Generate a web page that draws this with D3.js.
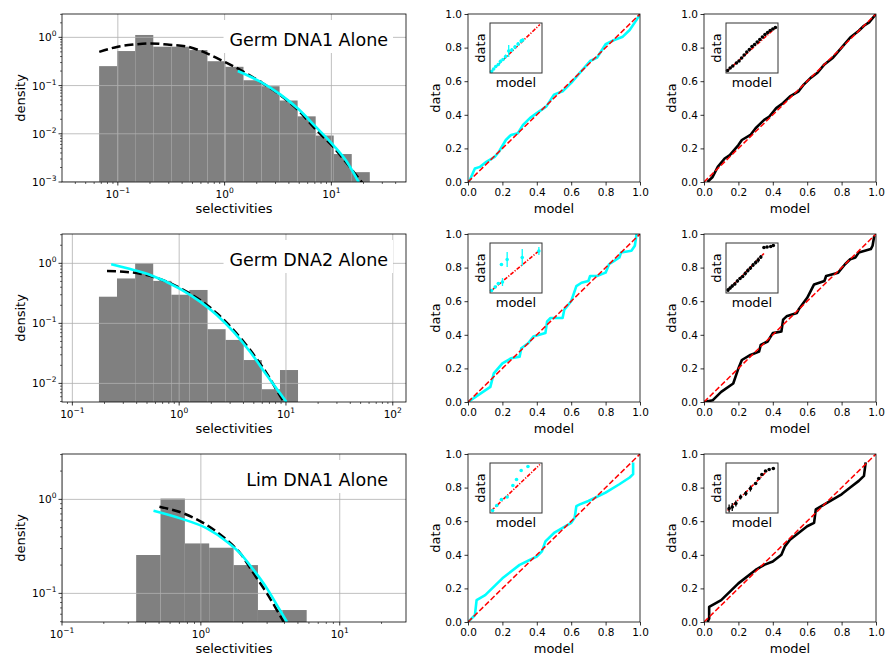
<!DOCTYPE html>
<html>
<head>
<meta charset="utf-8">
<script src="https://cdn.jsdelivr.net/npm/d3@7"></script>
<style>
  body { margin: 0; background: #fff; }
  svg { font-family: "DejaVu Sans", sans-serif; }
</style>
</head>
<body>
<div id="chart"></div>
<script>
// ---- data ----
const titles = ["Germ DNA1 Alone", "Germ DNA2 Alone", "Lim DNA1 Alone"];

// histogram bin edges and heights (density)
const edges1 = [0.0668, 0.0986, 0.1455, 0.2148, 0.317, 0.4677, 0.690, 1.019, 1.503, 2.218, 3.273, 4.831, 7.129, 10.52, 15.52, 22.9];
const dens1  = [0.253, 0.52, 1.12, 0.64, 0.64, 0.545, 0.32, 0.245, 0.129, 0.097, 0.049, 0.023, 0.0092, 0.0038, 0.0016];
const edges2 = [0.1774, 0.2618, 0.3873, 0.5715, 0.8453, 1.247, 1.845, 2.723, 4.027, 5.943, 8.79, 12.97];
const dens2  = [0.278, 0.56, 1.0, 0.51, 0.30, 0.36, 0.080, 0.053, 0.0245, 0.0080, 0.0167];
const edges3 = [0.342, 0.512, 0.767, 1.148, 1.722, 2.576, 3.864, 5.78];
const dens3  = [0.256, 1.02, 0.34, 0.306, 0.20, 0.0665, 0.0665];

// fitted curves: black dashed and cyan
const dash1 = [[0.067,0.50],[0.1,0.64],[0.142,0.71],[0.20,0.75],[0.29,0.71],[0.45,0.64],[0.69,0.46],[1.0,0.31],[1.41,0.21],[2.17,0.119],[3.34,0.063],[4.88,0.031],[7.08,0.0126],[10.5,0.0052],[15,0.002],[19.4,0.00097]];
const cyan1 = [[1.33,0.2],[2.17,0.119],[3.34,0.065],[4.88,0.033],[7.08,0.0142],[10.5,0.0057],[14,0.0026],[18,0.001]];
const dash2 = [[0.211,0.745],[0.302,0.726],[0.432,0.672],[0.618,0.57],[1.0,0.395],[1.57,0.245],[2.25,0.148],[3.22,0.078],[4.61,0.0362],[6.59,0.0148],[9.44,0.0051],[9.9,0.0045]];
const cyan2 = [[0.231,0.962],[0.374,0.774],[0.536,0.64],[1.0,0.383],[1.57,0.23],[2.25,0.138],[3.22,0.0726],[4.61,0.0337],[6.59,0.0138],[10.1,0.00489]];
const dash3 = [[0.503,0.836],[0.75,0.71],[1.105,0.533],[1.54,0.369],[1.92,0.267],[2.4,0.163],[2.99,0.1],[3.53,0.0665],[3.95,0.0496]];
const cyan3 = [[0.456,0.757],[0.71,0.628],[1.105,0.491],[1.54,0.355],[1.92,0.267],[2.4,0.177],[2.99,0.113],[3.53,0.075],[4.17,0.0496]];

// axis limits and decade ticks
const xLims = [[0.03, 50], [0.08, 133], [0.1, 30]];
const yLims = [[0.001, 3.05], [0.0049, 3.08], [0.0496, 3.04]];
const xDecades = [[-1, 0, 1], [-1, 0, 1, 2], [-1, 0, 1]];
const yDecades = [[0, -1, -2, -3], [0, -1, -2], [0, -1]];

// Q-Q curves (model, data)
const qqMid1 = [[0,0],[0.01,0.01],[0.04,0.08],[0.07,0.09],[0.107,0.12],[0.155,0.15],[0.18,0.18],[0.22,0.25],[0.25,0.28],[0.29,0.29],[0.32,0.34],[0.36,0.38],[0.4,0.41],[0.456,0.45],[0.5,0.52],[0.55,0.54],[0.6,0.59],[0.65,0.65],[0.71,0.72],[0.75,0.74],[0.8,0.82],[0.85,0.845],[0.9,0.865],[0.94,0.905],[0.98,0.965],[1,1]];
const qqRight1 = [[0.02,0],[0.05,0.03],[0.08,0.09],[0.12,0.14],[0.15,0.16],[0.2,0.22],[0.22,0.25],[0.27,0.28],[0.3,0.32],[0.35,0.37],[0.38,0.39],[0.42,0.44],[0.46,0.47],[0.5,0.51],[0.55,0.54],[0.58,0.58],[0.62,0.62],[0.66,0.65],[0.7,0.7],[0.75,0.74],[0.8,0.8],[0.85,0.86],[0.9,0.9],[0.93,0.93],[0.96,0.95],[1,1]];
const qqMid2 = [[0,0],[0.13,0.09],[0.15,0.17],[0.2,0.23],[0.25,0.26],[0.3,0.27],[0.31,0.32],[0.35,0.35],[0.38,0.39],[0.45,0.41],[0.46,0.48],[0.48,0.5],[0.55,0.5],[0.56,0.55],[0.6,0.6],[0.63,0.69],[0.66,0.71],[0.7,0.72],[0.71,0.75],[0.75,0.75],[0.8,0.77],[0.82,0.82],[0.85,0.84],[0.88,0.86],[0.89,0.89],[0.95,0.9],[0.97,0.93],[0.98,1.0]];
const qqRight2 = [[0,0],[0.05,0.01],[0.1,0.06],[0.17,0.11],[0.2,0.2],[0.22,0.25],[0.27,0.28],[0.32,0.3],[0.33,0.34],[0.37,0.36],[0.4,0.41],[0.45,0.42],[0.46,0.49],[0.48,0.51],[0.54,0.53],[0.55,0.55],[0.6,0.62],[0.64,0.7],[0.7,0.72],[0.71,0.75],[0.78,0.77],[0.82,0.82],[0.85,0.85],[0.88,0.86],[0.9,0.89],[0.97,0.91],[0.98,0.93],[0.99,0.99]];
const qqMid3 = [[0,0],[0.04,0.04],[0.05,0.13],[0.1,0.16],[0.2,0.26],[0.3,0.34],[0.4,0.39],[0.43,0.42],[0.45,0.48],[0.5,0.53],[0.6,0.59],[0.62,0.62],[0.63,0.69],[0.65,0.7],[0.7,0.72],[0.8,0.77],[0.88,0.82],[0.94,0.86],[0.96,0.88],[0.96,0.95]];
const qqRight3 = [[0.02,0],[0.03,0.02],[0.03,0.09],[0.1,0.13],[0.2,0.23],[0.3,0.31],[0.35,0.34],[0.4,0.36],[0.45,0.4],[0.47,0.45],[0.5,0.49],[0.55,0.53],[0.6,0.57],[0.64,0.59],[0.65,0.67],[0.7,0.7],[0.8,0.76],[0.85,0.8],[0.9,0.84],[0.93,0.87],[0.94,0.95]];

// inset points [model, data, error]
const inMid1 = [[0.03,0.03,0.02],[0.07,0.08,0.02],[0.11,0.13,0.03],[0.16,0.17,0.02],[0.2,0.23,0.04],[0.25,0.27,0.03],[0.3,0.33,0.04],[0.36,0.44,0.12],[0.42,0.46,0.04],[0.48,0.52,0.04],[0.54,0.58,0.04],[0.6,0.64,0.04],[0.63,0.66,0.03]];
const inRight1 = [[0.03,0.05,0.03],[0.08,0.1,0.02],[0.13,0.14,0.02],[0.2,0.2,0.02],[0.25,0.24,0.02],[0.3,0.3,0.02],[0.35,0.36,0.02],[0.4,0.42,0.02],[0.45,0.47,0.02],[0.5,0.53,0.02],[0.55,0.57,0.02],[0.6,0.62,0.02],[0.65,0.67,0.02],[0.7,0.72,0.02],[0.75,0.77,0.02],[0.8,0.81,0.02],[0.85,0.85,0.02],[0.9,0.88,0.02],[0.95,0.91,0.02]];
const inMid2 = [[0.03,0.05,0.02],[0.1,0.12,0.03],[0.16,0.19,0.03],[0.24,0.22,0.08],[0.22,0.57,0],[0.33,0.67,0.15],[0.62,0.71,0.17],[0.94,0.84,0.08]];
const inRight2 = [[0.04,0.06,0.04],[0.08,0.1,0.03],[0.12,0.14,0.03],[0.17,0.18,0.03],[0.22,0.24,0.03],[0.27,0.29,0.03],[0.32,0.33,0.03],[0.37,0.39,0.04],[0.42,0.45,0.04],[0.47,0.5,0.04],[0.52,0.56,0.04],[0.57,0.61,0.04],[0.62,0.66,0.05],[0.67,0.72,0.04],[0.73,0.91,0.02],[0.79,0.92,0.02],[0.86,0.93,0.02],[0.91,0.95,0.02]];
const inMid3 = [[0.05,0.05,0.03],[0.13,0.15,0.03],[0.22,0.27,0.02],[0.33,0.32,0.02],[0.44,0.55,0],[0.51,0.67,0],[0.6,0.85,0],[0.73,0.93,0]];
const inRight3 = [[0.06,0.09,0.08],[0.12,0.12,0.08],[0.19,0.19,0.06],[0.28,0.32,0.05],[0.38,0.39,0.05],[0.47,0.49,0.06],[0.57,0.59,0],[0.63,0.69,0],[0.69,0.77,0],[0.76,0.84,0],[0.83,0.87,0],[0.91,0.89,0]];
// reference line end points in insets
const inRef = [[[0.02,0.03],[0.96,0.97]], [[0.01,0.03],[0.97,0.92]], [[0.03,0.05],[0.95,0.85]], [[0.03,0.05],[0.73,0.79]], [[0.03,0.05],[0.96,0.97]], [[0.03,0.05],[0.8,0.85]]];

// ---- layout ----
const W = 885, H = 657;
const rowTops = [14, 234, 454];
const plotH = 168;
const histLeft = 62, histW = 344;
const midLeft = 468, rightLeft = 704, qqW = 172;

const svg = d3.select("#chart").append("svg")
    .attr("width", W)
    .attr("height", H);

const edges = [edges1, edges2, edges3];
const dens = [dens1, dens2, dens3];
const dashes = [dash1, dash2, dash3];
const cyans = [cyan1, cyan2, cyan3];

function supText(sel, exp) {
  sel.append("tspan").text("10");
  sel.append("tspan")
      .attr("dy", -5)
      .attr("font-size", 7.5)
      .text(exp < 0 ? "\u2212" + (-exp) : String(exp));
}

function drawHist(i) {
  const g = svg.append("g").attr("transform", `translate(${histLeft},${rowTops[i]})`);
  const x = d3.scaleLog().domain(xLims[i]).range([0, histW]);
  const y = d3.scaleLog().domain(yLims[i]).range([plotH, 0]);

  g.append("clipPath").attr("id", "hclip" + i)
    .append("rect").attr("width", histW).attr("height", plotH);
  const body = g.append("g").attr("clip-path", `url(#hclip${i})`);

  // bars
  const bins = dens[i].map((d, k) => ({x0: edges[i][k], x1: edges[i][k + 1], v: d}));
  body.selectAll("rect.bar")
    .data(bins)
    .join("rect")
      .attr("class", "bar")
      .attr("x", d => x(d.x0))
      .attr("y", d => y(d.v))
      .attr("width", d => x(d.x1) - x(d.x0))
      .attr("height", d => plotH - y(d.v))
      .attr("fill", "#808080");

  // grid (over the bars, like matplotlib)
  body.selectAll("line.gx")
    .data(xDecades[i])
    .join("line")
      .attr("x1", d => x(Math.pow(10, d))).attr("x2", d => x(Math.pow(10, d)))
      .attr("y1", 0).attr("y2", plotH)
      .attr("stroke", "#b0b0b0").attr("stroke-width", 0.8);
  body.selectAll("line.gy")
    .data(yDecades[i])
    .join("line")
      .attr("y1", d => y(Math.pow(10, d))).attr("y2", d => y(Math.pow(10, d)))
      .attr("x1", 0).attr("x2", histW)
      .attr("stroke", "#b0b0b0").attr("stroke-width", 0.8);

  const line = d3.line().x(d => x(d[0])).y(d => y(d[1])).curve(d3.curveMonotoneX);
  body.append("path")
      .attr("d", line(dashes[i]))
      .attr("fill", "none").attr("stroke", "#000")
      .attr("stroke-width", 2.5).attr("stroke-dasharray", "9,4");
  body.append("path")
      .attr("d", line(cyans[i]))
      .attr("fill", "none").attr("stroke", "#00ffff")
      .attr("stroke-width", 2.6);

  // title box
  const tb = g.append("g");
  const box = tb.append("rect").attr("fill", "#fff");
  const t = tb.append("text")
      .attr("x", 326).attr("y", 32)
      .attr("text-anchor", "end")
      .attr("font-size", 17.5)
      .attr("fill", "#000")
      .text(titles[i]);
  const bb = t.node().getBBox();
  box.attr("x", bb.x - 6).attr("y", 6).attr("width", bb.width + 11).attr("height", 33);

  // frame
  g.append("rect").attr("width", histW).attr("height", plotH)
      .attr("fill", "none").attr("stroke", "#000").attr("stroke-width", 0.8);

  // ticks
  const [xa, xb] = xLims[i];
  const minorX = [], minorY = [];
  for (let e = Math.floor(Math.log10(xa)); e <= Math.ceil(Math.log10(xb)); e++)
    for (let m = 2; m <= 9; m++) { const v = m * Math.pow(10, e); if (v > xa && v < xb) minorX.push(v); }
  const [ya, yb] = yLims[i];
  for (let e = Math.floor(Math.log10(ya)); e <= Math.ceil(Math.log10(yb)); e++)
    for (let m = 2; m <= 9; m++) { const v = m * Math.pow(10, e); if (v > ya && v < yb) minorY.push(v); }

  g.selectAll("line.mx").data(minorX).join("line")
      .attr("x1", d => x(d)).attr("x2", d => x(d))
      .attr("y1", plotH).attr("y2", plotH + 2)
      .attr("stroke", "#000").attr("stroke-width", 0.6);
  g.selectAll("line.my").data(minorY).join("line")
      .attr("y1", d => y(d)).attr("y2", d => y(d))
      .attr("x1", 0).attr("x2", -2)
      .attr("stroke", "#000").attr("stroke-width", 0.6);

  xDecades[i].forEach(e => {
    const px = x(Math.pow(10, e));
    g.append("line").attr("x1", px).attr("x2", px).attr("y1", plotH).attr("y2", plotH + 3.5)
        .attr("stroke", "#000").attr("stroke-width", 0.8);
    const tx = g.append("text").attr("x", px).attr("y", plotH + 15.5)
        .attr("text-anchor", "middle").attr("font-size", 10.5);
    supText(tx, e);
  });
  yDecades[i].forEach(e => {
    const py = y(Math.pow(10, e));
    g.append("line").attr("y1", py).attr("y2", py).attr("x1", 0).attr("x2", -3.5)
        .attr("stroke", "#000").attr("stroke-width", 0.8);
    const ty = g.append("text").attr("x", -5.5).attr("y", py + 4)
        .attr("text-anchor", "end").attr("font-size", 10.5);
    supText(ty, e);
  });

  g.append("text")
      .attr("x", histW / 2).attr("y", plotH + 31)
      .attr("text-anchor", "middle").attr("font-size", 13)
      .text("selectivities");
  g.append("text")
      .attr("transform", `translate(-37,${plotH / 2}) rotate(-90)`)
      .attr("text-anchor", "middle").attr("font-size", 13)
      .text("density");
}

function drawQQ(left, top, curve, color, pts, ref, id) {
  const g = svg.append("g").attr("transform", `translate(${left},${top})`);
  const x = d3.scaleLinear().domain([0, 1]).range([0, qqW]);
  const y = d3.scaleLinear().domain([0, 1]).range([plotH, 0]);

  g.append("clipPath").attr("id", "qclip" + id)
    .append("rect").attr("width", qqW).attr("height", plotH);
  const body = g.append("g").attr("clip-path", `url(#qclip${id})`);

  const line = d3.line().x(d => x(d[0])).y(d => y(d[1]));
  body.append("path")
      .attr("d", line(curve))
      .attr("fill", "none").attr("stroke", color)
      .attr("stroke-width", 2.6).attr("stroke-linejoin", "round");
  body.append("path")
      .attr("d", line([[0, 0], [1, 1]]))
      .attr("fill", "none").attr("stroke", "#ff0000")
      .attr("stroke-width", 1.5).attr("stroke-dasharray", "5.5,2.4");

  g.append("rect").attr("width", qqW).attr("height", plotH)
      .attr("fill", "none").attr("stroke", "#000").attr("stroke-width", 0.8);

  const ticks = [0, 0.2, 0.4, 0.6, 0.8, 1.0];
  const xAxis = d3.axisBottom(x).tickValues(ticks).tickFormat(d3.format(".1f")).tickSizeOuter(0).tickSize(3.5).tickPadding(3);
  const yAxis = d3.axisLeft(y).tickValues(ticks).tickFormat(d3.format(".1f")).tickSizeOuter(0).tickSize(3.5).tickPadding(2.5);
  g.append("g").attr("transform", `translate(0,${plotH})`).call(xAxis)
      .call(a => a.select(".domain").remove())
      .call(a => a.selectAll("text").attr("font-size", 10.5).attr("font-family", "DejaVu Sans").attr("fill", "#000"))
      .call(a => a.selectAll("line").attr("stroke-width", 0.8));
  g.append("g").call(yAxis)
      .call(a => a.select(".domain").remove())
      .call(a => a.selectAll("text").attr("font-size", 10.5).attr("font-family", "DejaVu Sans").attr("fill", "#000"))
      .call(a => a.selectAll("line").attr("stroke-width", 0.8));

  g.append("text")
      .attr("x", qqW / 2).attr("y", plotH + 31)
      .attr("text-anchor", "middle").attr("font-size", 13)
      .text("model");
  g.append("text")
      .attr("transform", `translate(-28,${plotH / 2}) rotate(-90)`)
      .attr("text-anchor", "middle").attr("font-size", 13)
      .text("data");

  // inset
  const iw = 52, ih = 50;
  const ig = g.append("g").attr("transform", "translate(22,9)");
  const ix = d3.scaleLinear().domain([0, 1]).range([0, iw]);
  const iy = d3.scaleLinear().domain([0, 1]).range([ih, 0]);
  ig.append("rect").attr("width", iw).attr("height", ih).attr("fill", "#fff");
  ig.append("path")
      .attr("d", d3.line().x(d => ix(d[0])).y(d => iy(d[1]))(ref))
      .attr("fill", "none").attr("stroke", "#ff0000")
      .attr("stroke-width", 1.6).attr("stroke-dasharray", "4,1.5,1.2,1.5");
  ig.selectAll("line.err").data(pts.filter(d => d[2] > 0)).join("line")
      .attr("x1", d => ix(d[0])).attr("x2", d => ix(d[0]))
      .attr("y1", d => iy(d[1] - d[2])).attr("y2", d => iy(d[1] + d[2]))
      .attr("stroke", color).attr("stroke-width", 1.3);
  ig.selectAll("circle").data(pts).join("circle")
      .attr("cx", d => ix(d[0])).attr("cy", d => iy(d[1]))
      .attr("r", 1.8).attr("fill", color);
  ig.append("rect").attr("width", iw).attr("height", ih)
      .attr("fill", "none").attr("stroke", "#333").attr("stroke-width", 1);
  ig.append("text")
      .attr("x", iw / 2).attr("y", ih + 14)
      .attr("text-anchor", "middle").attr("font-size", 13)
      .text("model");
  ig.append("text")
      .attr("transform", `translate(-5,${ih / 2}) rotate(-90)`)
      .attr("text-anchor", "middle").attr("font-size", 13)
      .text("data");
}

[0, 1, 2].forEach(drawHist);

drawQQ(midLeft, rowTops[0], qqMid1, "#00ffff", inMid1, inRef[0], 0);
drawQQ(rightLeft, rowTops[0], qqRight1, "#000", inRight1, inRef[1], 1);
drawQQ(midLeft, rowTops[1], qqMid2, "#00ffff", inMid2, inRef[2], 2);
drawQQ(rightLeft, rowTops[1], qqRight2, "#000", inRight2, inRef[3], 3);
drawQQ(midLeft, rowTops[2], qqMid3, "#00ffff", inMid3, inRef[4], 4);
drawQQ(rightLeft, rowTops[2], qqRight3, "#000", inRight3, inRef[5], 5);
</script>
</body>
</html>
